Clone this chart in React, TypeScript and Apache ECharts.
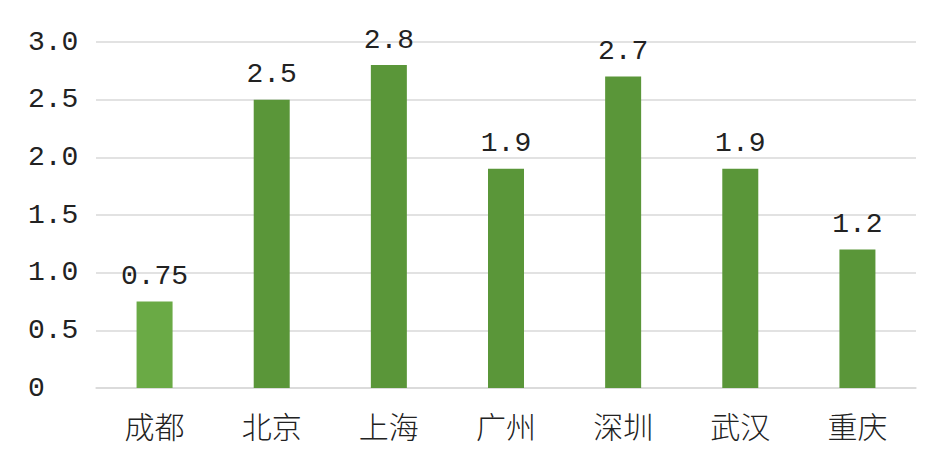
import { useRef, useEffect } from 'react'
import * as echarts from 'echarts'

const cities = ['成都', '北京', '上海', '广州', '深圳', '武汉', '重庆']
const values = [0.75, 2.5, 2.8, 1.9, 2.7, 1.9, 1.2]
const labels = ['0.75', '2.5', '2.8', '1.9', '2.7', '1.9', '1.2']
const barColors = ['#6aaa45', '#5a9639', '#5a9639', '#5a9639', '#5a9639', '#5a9639', '#5a9639']

const monoFont = '"Liberation Mono", "DejaVu Sans Mono", monospace'
const cjkFont = '"Noto Sans CJK SC", sans-serif'

export default function App() {
  const chartRef = useRef<HTMLDivElement>(null)

  useEffect(() => {
    if (!chartRef.current) return
    const chart = echarts.init(chartRef.current, undefined, { renderer: 'svg' })

    chart.setOption({
      animation: false,
      backgroundColor: '#ffffff',
      grid: { top: 42, left: 96, right: 29, bottom: 85 },
      xAxis: {
        type: 'category',
        data: cities,
        axisLine: { lineStyle: { color: '#d9d9d9', width: 1.5 } },
        axisTick: { show: false },
        axisLabel: { color: '#222222', fontSize: 30, fontWeight: 300, fontFamily: cjkFont, margin: 22 },
      },
      yAxis: {
        type: 'value',
        min: 0,
        max: 3,
        interval: 0.5,
        axisLine: { show: false },
        axisTick: { show: false },
        splitLine: { lineStyle: { color: '#d9d9d9', width: 1.5 } },
        axisLabel: {
          color: '#222222',
          fontSize: 28,
          fontFamily: monoFont,
          align: 'left',
          margin: 68,
          formatter: (v: number) => (v === 0 ? '0' : v.toFixed(1)),
        },
      },
      series: [
        {
          type: 'bar',
          barWidth: 36,
          data: values.map((v, i) => ({ value: v, itemStyle: { color: barColors[i] } })),
          label: {
            show: true,
            position: 'top',
            distance: 11,
            color: '#222222',
            fontSize: 28,
            fontFamily: monoFont,
            formatter: (p: any) => labels[p.dataIndex],
          },
        },
      ],
    })

    return () => chart.dispose()
  }, [])

  return (
    <div
      ref={chartRef}
      style={{ position: 'absolute', left: 0, top: 0, width: 945, height: 473 }}
    />
  )
}
